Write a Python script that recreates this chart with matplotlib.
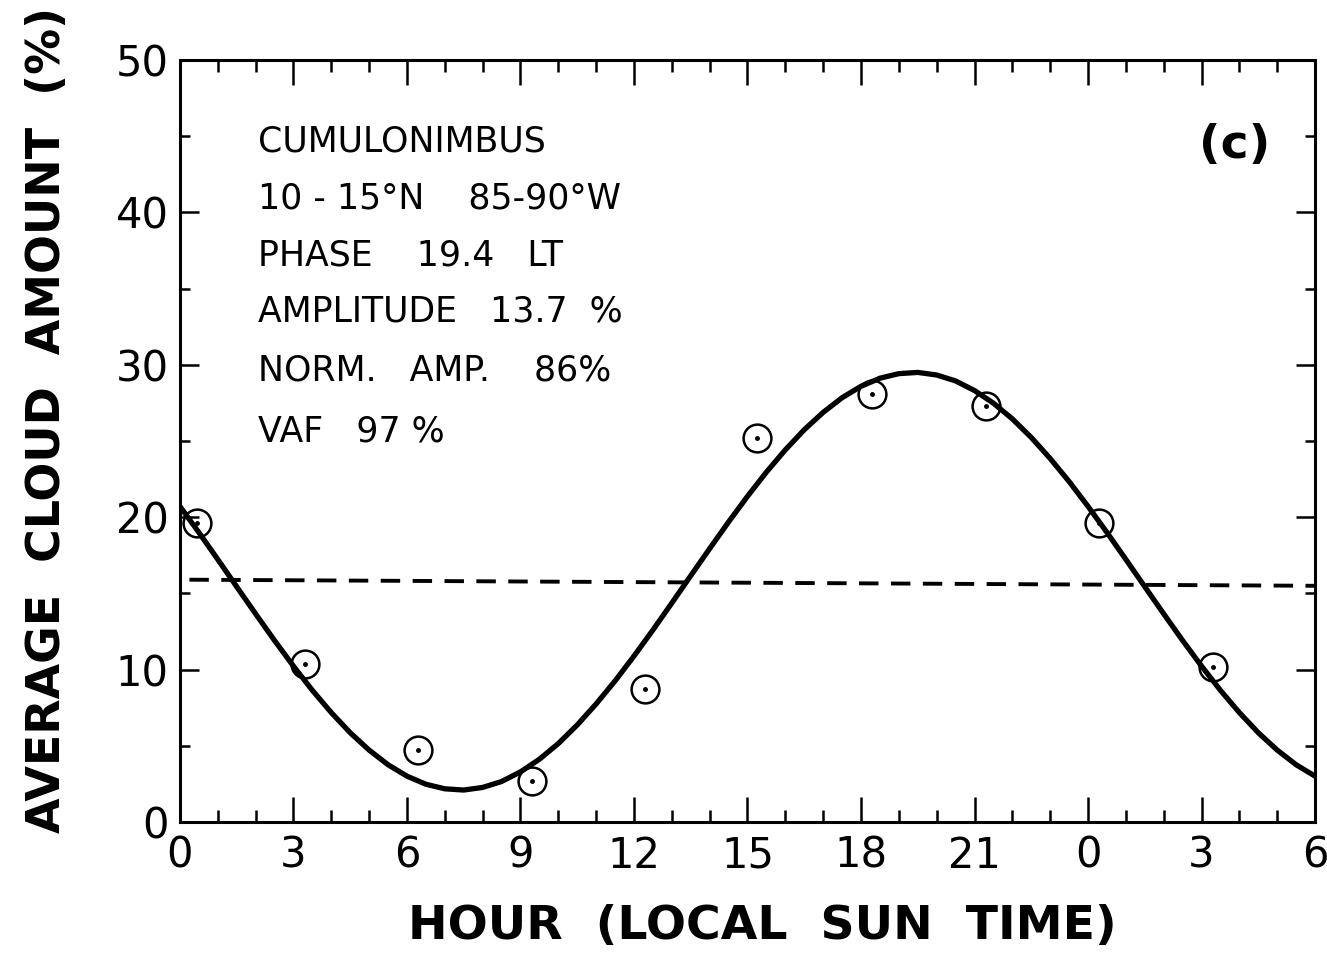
import matplotlib
matplotlib.use("Agg")
import matplotlib.pyplot as plt
from matplotlib.ticker import MultipleLocator, FixedLocator

# Observed 3-hourly cloud amounts (%)
obs_hour = [0.45, 3.3, 6.3, 9.3, 12.3, 15.25, 18.3, 21.3, 24.3, 27.3]
obs_amount = [19.6, 10.4, 4.7, 2.7, 8.7, 25.2, 28.1, 27.3, 19.6, 10.2]

# Fitted diurnal curve, every half hour from 0 to 30
fit_hour = [i * 0.5 for i in range(61)]
fit_amount = [20.71, 19.00, 17.23, 15.44, 13.66, 11.91, 10.23, 8.64, 7.18, 5.86,
              4.72, 3.76, 3.01, 2.48, 2.18, 2.10, 2.27, 2.66, 3.29, 4.12,
              5.15, 6.37, 7.75, 9.26, 10.89, 12.60, 14.37, 16.16, 17.94, 19.69,
              21.37, 22.96, 24.42, 25.74, 26.88, 27.84, 28.59, 29.12, 29.42, 29.50,
              29.33, 28.94, 28.31, 27.48, 26.45, 25.23, 23.85, 22.34, 20.71, 19.00,
              17.23, 15.44, 13.66, 11.91, 10.23, 8.64, 7.18, 5.86, 4.72, 3.76,
              3.01]

# Daily mean (dashed)
mean_hour = [0.25, 30]
mean_amount = [15.9, 15.5]

tick_hours = [0, 3, 6, 9, 12, 15, 18, 21, 24, 27, 30]
tick_labels = ["0", "3", "6", "9", "12", "15", "18", "21", "0", "3", "6"]

info_lines = ["CUMULONIMBUS", "10 - 15°N    85-90°W", "PHASE    19.4   LT",
              "AMPLITUDE   13.7  %", "NORM.   AMP.    86%", "VAF   97 %"]

fig = plt.figure(figsize=(13.27, 9.61), dpi=100)
ax = fig.add_axes([0.1356, 0.1446, 0.8554, 0.793])

ax.plot(fit_hour, fit_amount, color="black", lw=3.8, solid_joinstyle="round")
ax.plot(mean_hour, mean_amount, color="black", lw=2.8, dashes=(5, 3.2))
ax.plot(obs_hour, obs_amount, ls="none", marker="o", ms=20, mfc="none",
        mec="black", mew=1.8)
ax.plot(obs_hour, obs_amount, ls="none", marker="o", ms=2.5, color="black")

ax.set_xlim(0, 30)
ax.set_ylim(0, 50)
ax.xaxis.set_major_locator(FixedLocator(tick_hours))
ax.set_xticklabels(tick_labels)
ax.xaxis.set_minor_locator(MultipleLocator(1))
ax.yaxis.set_major_locator(MultipleLocator(10))
ax.yaxis.set_minor_locator(MultipleLocator(5))

ax.tick_params(which="both", direction="in", top=True, right=True,
               width=1.8, labelsize=30)
ax.tick_params(axis="x", which="major", length=18, pad=9)
ax.tick_params(axis="x", which="minor", length=8.5)
ax.tick_params(axis="y", which="major", length=14, pad=8)
ax.tick_params(axis="y", which="minor", length=7)
for s in ax.spines.values():
    s.set_linewidth(2.2)

ax.set_xlabel("HOUR  (LOCAL  SUN  TIME)", fontsize=34, fontweight="bold")
ax.xaxis.set_label_coords(0.513, -0.107)
ax.set_ylabel("AVERAGE  CLOUD  AMOUNT  (%)", fontsize=33, fontweight="bold")
ax.yaxis.set_label_coords(-0.097, 0.528)

line_y = [142, 199, 256, 312, 371, 431]
for txt, py in zip(info_lines, line_y):
    ax.text(0.0687, (822 - py) / 762, txt, transform=ax.transAxes,
            fontsize=25, va="center", ha="left")

ax.text(0.929, 0.888, "(c)", transform=ax.transAxes, fontsize=34,
        fontweight="bold", va="center", ha="center")

fig.savefig("out.png", dpi=100)
